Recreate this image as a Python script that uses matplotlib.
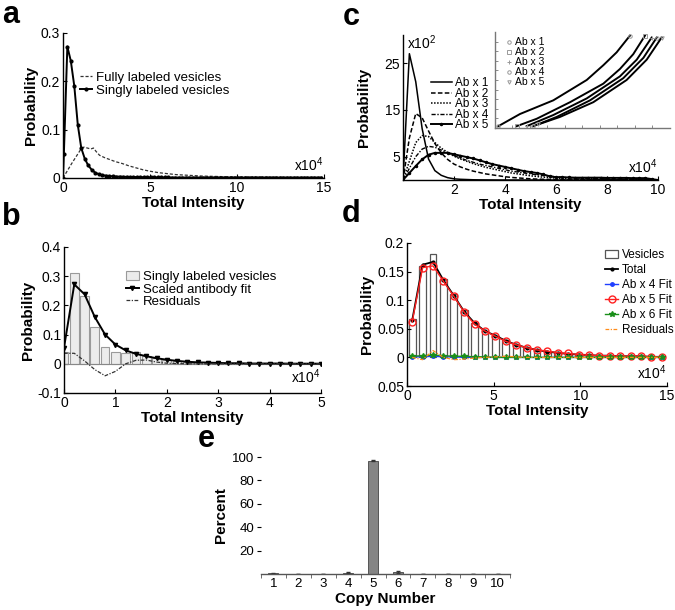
import numpy as np
import matplotlib
matplotlib.use("Agg")
import matplotlib.pyplot as plt

plt.rcParams["font.family"] = ["Liberation Sans", "DejaVu Sans"]
plt.rcParams["mathtext.default"] = "regular"
plt.rcParams["xtick.direction"] = "in"
plt.rcParams["ytick.direction"] = "in"
plt.rcParams["axes.linewidth"] = 1.0

# ─── Panel a: intensity distributions ────────────────────────────────────────
a_single_x = np.concatenate([[0.0], np.arange(0.05, 15.0, 0.2)])
a_single_y = [0.0, 0.05, 0.272, 0.242, 0.19, 0.11, 0.062, 0.04, 0.026, 0.017,
              0.011, 0.008, 0.006, 0.005, 0.004, 0.0035, 0.003, 0.003, 0.0025, 0.0025,
              0.002, 0.002, 0.002, 0.002, 0.0015, 0.0015, 0.0015, 0.0015, 0.0012, 0.0012,
              0.0012, 0.0012, 0.001, 0.001, 0.001, 0.001, 0.001, 0.001, 0.001, 0.001,
              0.001, 0.001, 0.001, 0.001, 0.001, 0.001, 0.001, 0.001, 0.001, 0.001,
              0.001, 0.001, 0.001, 0.001, 0.001, 0.001, 0.001, 0.001, 0.001, 0.001,
              0.001, 0.001, 0.001, 0.001, 0.001, 0.001, 0.001, 0.001, 0.001, 0.001,
              0.001, 0.001, 0.001, 0.001, 0.001, 0.001]
a_full_x = [0, 0.5, 1.0, 1.2, 1.4, 1.6, 1.75, 1.9, 2.1, 2.4, 2.7, 3.0, 3.4, 3.8, 4.2,
            4.6, 5.0, 5.5, 6.0, 6.5, 7.0, 7.5, 8.0, 8.5, 9.0, 10, 11, 12, 13, 14, 15]
a_full_y = [0, 0.03, 0.058, 0.064, 0.062, 0.06, 0.062, 0.055, 0.047, 0.042, 0.038,
            0.034, 0.03, 0.025, 0.021, 0.017, 0.014, 0.011, 0.009, 0.007, 0.006, 0.005,
            0.004, 0.0035, 0.003, 0.002, 0.002, 0.0015, 0.001, 0.001, 0.001]

# ─── Panel b: singly labeled vesicles + fit ──────────────────────────────────
b_x = np.arange(0, 5.01, 0.2)
b_hist = [0.04, 0.31, 0.233, 0.127, 0.058, 0.041, 0.038, 0.04, 0.028, 0.02,
          0.012, 0.008, 0.005, 0.003, 0.002, 0.002, 0.001, 0.001, 0.001, 0.0,
          0.0, 0.0, 0.0, 0.0, 0.0, 0.0]
b_fit = [0.055, 0.272, 0.238, 0.16, 0.1, 0.066, 0.046, 0.034, 0.026, 0.019,
         0.014, 0.01, 0.007, 0.005, 0.004, 0.003, 0.002, 0.002, 0.001, 0.001,
         0.001, 0.001, 0.0005, 0.0005, 0.0005, 0.0005]
b_resid = [0.036, 0.036, 0.01, -0.02, -0.041, -0.026, 0.0, 0.012, 0.013, 0.006,
           0.002, 0.001, 0.0, 0.0, 0.0, 0.0, 0.0, 0.0, 0.0, 0.0,
           0.0, 0.0, 0.0, 0.0, 0.0, 0.0]

# ─── Panel c: antibody multiples (values x10^-2) ─────────────────────────────
c_x = np.arange(0, 10.01, 0.25)
c_ab1 = [0, 27.0, 21.0, 11.0, 4.5, 2.0, 1.0, 0.5, 0.25, 0.15, 0.1, 0.05, 0.03, 0.02,
         0.01, 0, 0, 0, 0, 0, 0, 0, 0, 0, 0, 0, 0, 0, 0, 0, 0, 0, 0, 0, 0, 0, 0, 0,
         0, 0, 0]
c_ab2 = [0, 9.0, 14.2, 13.3, 10.5, 7.8, 5.8, 4.4, 3.4, 2.8, 2.3, 1.9, 1.6, 1.3, 1.1,
         0.9, 0.7, 0.55, 0.45, 0.35, 0.25, 0.2, 0.15, 0.12, 0.1, 0.08, 0.06, 0.05,
         0.04, 0.03, 0.03, 0.02, 0.02, 0.02, 0.01, 0.01, 0.01, 0.01, 0.01, 0.01, 0.0]
c_ab3 = [0, 4.0, 8.0, 9.5, 9.3, 8.0, 6.8, 5.9, 5.1, 4.5, 4.0, 3.5, 3.1, 2.7, 2.4,
         2.1, 1.8, 1.5, 1.3, 1.1, 0.9, 0.75, 0.6, 0.5, 0.4, 0.3, 0.25, 0.2, 0.15,
         0.12, 0.1, 0.08, 0.06, 0.05, 0.04, 0.03, 0.03, 0.02, 0.02, 0.01, 0.0]
c_ab4 = [0, 2.5, 5.0, 6.6, 7.2, 7.0, 6.4, 5.8, 5.2, 4.7, 4.2, 3.8, 3.4, 3.1, 2.8,
         2.5, 2.2, 1.9, 1.7, 1.5, 1.3, 1.1, 0.95, 0.8, 0.7, 0.6, 0.5, 0.45, 0.4,
         0.35, 0.3, 0.28, 0.25, 0.22, 0.2, 0.18, 0.15, 0.12, 0.1, 0.05, 0.0]
c_ab5 = [0, 1.5, 3.0, 4.4, 5.4, 5.8, 5.8, 5.8, 5.5, 5.2, 4.9, 4.6, 4.2, 3.8, 3.4,
         3.1, 2.8, 2.5, 2.2, 1.9, 1.7, 1.5, 1.2, 0.8, 0.6, 0.6, 0.55, 0.5, 0.5,
         0.5, 0.5, 0.5, 0.45, 0.45, 0.45, 0.45, 0.4, 0.4, 0.4, 0.2, 0.0]
c_labels = ["Ab x 1", "Ab x 2", "Ab x 3", "Ab x 4", "Ab x 5"]

# inset (probability plot, axes units)
inset_x = [
    [0.019, 0.143, 0.333, 0.524, 0.619, 0.695, 0.771],
    [0.124, 0.238, 0.429, 0.619, 0.714, 0.790, 0.857],
    [0.181, 0.333, 0.524, 0.714, 0.810, 0.895],
    [0.219, 0.352, 0.543, 0.733, 0.848, 0.924],
    [0.248, 0.371, 0.562, 0.752, 0.867, 0.952],
]
inset_y = [
    [0.019, 0.146, 0.288, 0.500, 0.654, 0.788, 0.962],
    [0.019, 0.096, 0.269, 0.462, 0.615, 0.769, 0.962],
    [0.019, 0.135, 0.308, 0.538, 0.712, 0.942],
    [0.019, 0.115, 0.288, 0.519, 0.731, 0.942],
    [0.038, 0.115, 0.269, 0.500, 0.712, 0.942],
]

# ─── Panel d: vesicle fit ────────────────────────────────────────────────────
d_x = np.arange(0.3, 15.0, 0.6)
d_vesicles = [0.068, 0.160, 0.180, 0.137, 0.110, 0.082, 0.060, 0.047, 0.038, 0.031,
              0.022, 0.017, 0.012, 0.010, 0.009, 0.007, 0.005, 0.004, 0.003, 0.003,
              0.002, 0.002, 0.001, 0.001, 0.001]
d_total = [0.065, 0.162, 0.167, 0.135, 0.108, 0.080, 0.060, 0.046, 0.038, 0.029,
           0.022, 0.017, 0.013, 0.010, 0.008, 0.006, 0.005, 0.004, 0.003, 0.003,
           0.002, 0.002, 0.002, 0.001, 0.001]
d_ab4 = [0.001, 0.001, 0.002, 0.001, 0.001, 0.0, 0.0, 0.0, 0.0, 0.0,
         0.0, 0.0, 0.0, 0.0, 0.0, 0.0, 0.0, 0.0, 0.0, 0.0,
         0.0, 0.0, 0.0, 0.0, 0.0]
d_ab5 = [0.062, 0.157, 0.160, 0.133, 0.107, 0.079, 0.058, 0.046, 0.037, 0.028,
         0.022, 0.017, 0.013, 0.011, 0.008, 0.007, 0.005, 0.004, 0.003, 0.003,
         0.002, 0.002, 0.002, 0.001, 0.001]
d_ab6 = [0.002, 0.003, 0.004, 0.003, 0.002, 0.002, 0.001, 0.001, 0.0, 0.0,
         0.0, 0.0, 0.0, 0.0, 0.0, 0.0, 0.0, 0.0, 0.0, 0.0,
         0.0, 0.0, 0.0, 0.0, 0.0]
d_resid = [0.0, -0.004, 0.012, 0.0, -0.004, -0.003, -0.001, 0.0, 0.001, 0.002,
           0.001, 0.0, 0.0, 0.0, 0.0, 0.0, 0.0, 0.0, 0.0, 0.0,
           0.0, 0.0, 0.0, 0.0, 0.0]

# ─── Panel e: copy number ────────────────────────────────────────────────────
e_copy = [1, 2, 3, 4, 5, 6, 7, 8, 9, 10]
e_percent = [0.5, 0, 0, 1.0, 96.8, 2.0, 0, 0, 0, 0]
e_err = [0.3, 0, 0, 0.5, 0.6, 0.8, 0, 0, 0, 0]


def matlab_axes(ax, tick_size=10):
    ax.spines["top"].set_visible(False)
    ax.spines["right"].set_visible(False)
    ax.tick_params(labelsize=tick_size, length=3, width=0.8, pad=2)


def sci_tag(ax, x, y, text, **kw):
    ax.text(x, y, text, transform=ax.transAxes, fontsize=10, **kw)


fig = plt.figure(figsize=(6.75, 6.1), dpi=100)
W, H = 675.0, 610.0


def px_axes(left, top, right, bottom):
    return fig.add_axes([left / W, 1 - bottom / H, (right - left) / W, (bottom - top) / H])


LBL = dict(fontsize=11, fontweight="bold")

# panel a
ax = px_axes(63, 33, 324, 178)
ax.plot(a_full_x, a_full_y, color="#333333", lw=0.9, ls=(0, (2.5, 1.5)),
        label="Fully labeled vesicles")
ax.plot(a_single_x, a_single_y, color="black", lw=1.4, marker=".", ms=4,
        label="Singly labeled vesicles")
ax.set_xlim(0, 15)
ax.set_ylim(0, 0.3)
ax.set_xticks([0, 5, 10, 15])
ax.set_yticks([0, 0.1, 0.2, 0.3])
ax.set_yticklabels(["0", "0.1", "0.2", "0.3"])
matlab_axes(ax)
ax.set_xlabel("Total Intensity", labelpad=1, **LBL)
ax.set_ylabel("Probability", labelpad=2, **LBL)
sci_tag(ax, 1.0, 0.03, "x10$^4$", ha="right", va="bottom")
ax.legend(loc="upper left", bbox_to_anchor=(0.04, 0.78), frameon=False, fontsize=9.5,
          handlelength=0.9, handletextpad=0.3, labelspacing=0.05, borderpad=0)

# panel b
ax = px_axes(64, 247, 321, 393)
ax.axhline(0, color="#888888", lw=0.8)
h_hist = ax.bar(b_x, b_hist, width=0.17, color="#ececec", edgecolor="#9a9a9a", lw=0.8,
                label="Singly labeled vesicles")
h_fit, = ax.plot(b_x, b_fit, color="black", lw=1.4, marker="v", ms=3,
                 label="Scaled antibody fit")
h_res, = ax.plot(b_x, b_resid, color="#333333", lw=0.9, ls=(0, (3, 1.2, 1, 1.2)),
                 label="Residuals")
ax.set_xlim(0, 5)
ax.set_ylim(-0.1, 0.4)
ax.set_xticks([0, 1, 2, 3, 4, 5])
ax.set_yticks([-0.1, 0, 0.1, 0.2, 0.3, 0.4])
ax.set_yticklabels(["-0.1", "0", "0.1", "0.2", "0.3", "0.4"])
matlab_axes(ax)
ax.set_xlabel("Total Intensity", labelpad=1, **LBL)
ax.set_ylabel("Probability", labelpad=2, **LBL)
sci_tag(ax, 1.0, 0.05, "x10$^4$", ha="right", va="bottom")
ax.legend(handles=[h_hist, h_fit, h_res], loc="upper left", bbox_to_anchor=(0.215, 0.88),
          frameon=False, fontsize=9.5, handlelength=1.0, handletextpad=0.3,
          labelspacing=0.0, borderpad=0)

# panel c
ax = px_axes(403, 35, 658, 180)
c_styles = [dict(ls="-", lw=1.1), dict(ls=(0, (3, 1.5)), lw=1.1),
            dict(ls=(0, (1, 1)), lw=1.1), dict(ls=(0, (3, 1.2, 1, 1.2)), lw=1.0),
            dict(ls="-", lw=1.4, marker=".", ms=3)]
for ys, st, lab in zip([c_ab1, c_ab2, c_ab3, c_ab4, c_ab5], c_styles, c_labels):
    ax.plot(c_x, ys, color="black", label=lab, **st)
ax.set_xlim(0, 10)
ax.set_ylim(0, 31)
ax.set_xticks([2, 4, 6, 8, 10])
ax.set_yticks([5, 15, 25])
matlab_axes(ax)
ax.set_xlabel("Total Intensity", labelpad=1, **LBL)
ax.set_ylabel("Probability", labelpad=10, **LBL)
sci_tag(ax, 1.0, 0.03, "x10$^4$", ha="right", va="bottom")
sci_tag(ax, 0.015, 0.88, "x10$^2$", ha="left", va="bottom")
ax.legend(loc="upper left", bbox_to_anchor=(0.085, 0.75), frameon=False, fontsize=8.5,
          handlelength=1.8, handletextpad=0.25, labelspacing=-0.12, borderpad=0)

# inset of panel c
axi = px_axes(495, 32, 670, 128)
inset_markers = ["o", "s", "+", "o", "v"]
for xs, ys, m, lab in zip(inset_x, inset_y, inset_markers, c_labels):
    axi.plot(xs, ys, color="black", lw=1.4)
    axi.plot([xs[0], xs[-1]], [ys[0], ys[-1]], ls="none", marker=m, ms=2.5,
             mfc="none" if m != "+" else "#999999", mec="#999999", mew=0.7, label=lab)
axi.set_xlim(0, 1)
axi.set_ylim(0, 1)
axi.spines["top"].set_visible(False)
axi.spines["right"].set_visible(False)
axi.spines["left"].set_color("#777777")
axi.spines["bottom"].set_color("#777777")
axi.set_xticks(np.linspace(0.1, 0.9, 9))
axi.set_yticks(np.linspace(0.1, 0.9, 9))
axi.tick_params(length=2, width=0.6, colors="#777777", labelleft=False, labelbottom=False)
axi.patch.set_alpha(0)
axi.legend(loc="upper left", bbox_to_anchor=(0.03, 1.0), frameon=False, fontsize=7.5,
           handlelength=0.6, handletextpad=0.3, labelspacing=0.0, borderpad=0)

# panel d
ax = px_axes(407, 243, 667, 386)
h_ves = ax.bar(d_x, d_vesicles, width=0.4, color="white", edgecolor="#555555", lw=0.9,
               label="Vesicles")
h_tot, = ax.plot(d_x, d_total, color="black", lw=1.3, marker=".", ms=4, label="Total")
h_a4, = ax.plot(d_x, d_ab4, color="#1f3fff", lw=1.0, marker=".", ms=5, label="Ab x 4 Fit")
h_a5, = ax.plot(d_x, d_ab5, color="#ff2020", lw=1.0, marker="o", ms=5, mfc="none", mew=1.0,
                label="Ab x 5 Fit")
h_a6, = ax.plot(d_x, d_ab6, color="#1a8f1a", lw=1.0, marker="*", ms=4, label="Ab x 6 Fit")
h_dr, = ax.plot(d_x, d_resid, color="#ff8c1a", lw=0.9, ls=(0, (3, 1.2, 1, 1.2)),
                label="Residuals")
ax.set_xlim(0, 15)
ax.set_ylim(-0.05, 0.2)
ax.set_xticks([0, 5, 10, 15])
ax.set_yticks([-0.05, 0, 0.05, 0.1, 0.15, 0.2])
ax.set_yticklabels(["0.05", "0", "0.05", "0.1", "0.15", "0.2"])
matlab_axes(ax)
ax.set_xlabel("Total Intensity", labelpad=1, **LBL)
ax.set_ylabel("Probability", labelpad=2, **LBL)
sci_tag(ax, 1.0, 0.03, "x10$^4$", ha="right", va="bottom")
ax.legend(handles=[h_ves, h_tot, h_a4, h_a5, h_a6, h_dr], loc="upper left",
          bbox_to_anchor=(0.74, 1.0), frameon=False, fontsize=8.5,
          handlelength=1.1, handletextpad=0.3, labelspacing=0.25, borderpad=0)

# panel e
ax = px_axes(261, 457, 510, 574)
ax.bar(e_copy, e_percent, width=0.4, color="#858585", edgecolor="#555555", lw=0.7,
       yerr=e_err, error_kw=dict(ecolor="#333333", elinewidth=0.7, capsize=1.5))
ax.set_xlim(0.5, 10.5)
ax.set_ylim(0, 100)
ax.set_xticks(e_copy)
ax.set_xticks(np.arange(0.5, 10.6, 1.0), minor=True)
ax.set_yticks([20, 40, 60, 80, 100])
matlab_axes(ax, tick_size=9.5)
ax.spines["left"].set_visible(False)
ax.spines["bottom"].set_color("#555555")
ax.tick_params(axis="x", which="major", length=0, pad=3)
ax.tick_params(axis="x", which="minor", length=3, direction="out", color="#555555")
ax.tick_params(axis="y", direction="out", length=3)
ax.set_xlabel("Copy Number", labelpad=1, **LBL)
ax.set_ylabel("Percent", labelpad=3, **LBL)

# panel letters
for letter, (x, y) in {"a": (2, 23), "b": (2, 225), "c": (343, 25),
                       "d": (342, 222), "e": (198, 447)}.items():
    fig.text(x / W, 1 - y / H, letter, fontsize=22, fontweight="bold",
             ha="left", va="baseline")

fig.savefig("out.png", dpi=100)
